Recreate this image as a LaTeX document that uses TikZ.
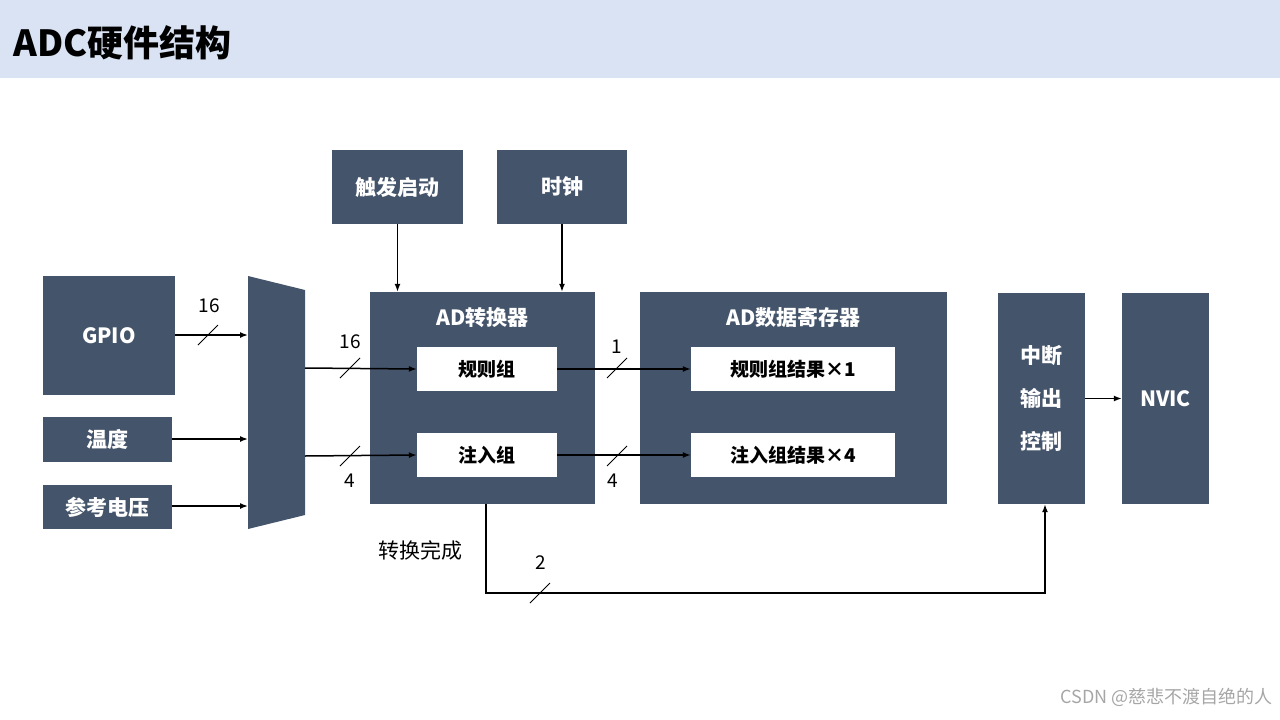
\documentclass[tikz,border=0pt]{standalone}
\usepackage{fontspec}
\setmainfont{Noto Sans CJK SC}
\usetikzlibrary{arrows.meta}
\definecolor{hdr}{HTML}{DAE3F3}
\definecolor{blk}{HTML}{44546A}
\tikzset{
 dbox/.style={fill=blk,draw=none,text=white,font=\fontsize{21}{24}\selectfont\bfseries,inner sep=0pt},
 wbox/.style={fill=white,draw=none,text=black,font=\fontsize{19}{22}\selectfont\bfseries,inner sep=0pt},
 arr/.style={-{Latex[length=8pt,width=6pt]},line width=1.5pt},
 ln/.style={line width=1.5pt},
 sl/.style={line width=0.9pt},
 lbl/.style={font=\fontsize{19}{22}\selectfont,inner sep=0pt}
}
\newcommand{\bx}[6]{\node[#1,minimum width=#4-#2,minimum height=#5-#3,anchor=north west,align=center] (#6) at (#2,#3) {};}
\begin{document}
\begin{tikzpicture}[x=1pt,y=-1pt]
\useasboundingbox (0,0) rectangle (1280,720);
\fill[hdr] (0,0) rectangle (1280,78);
\node[anchor=west,font=\fontsize{36}{40}\selectfont\bfseries] (title) at (10,43) {ADC硬件结构};
% boxes
\node[dbox,minimum width=131pt,minimum height=74pt] (trig) at (397.5,187) {触发启动};
\node[dbox,minimum width=130pt,minimum height=74pt] (clk) at (562,187) {时钟};
\node[dbox,minimum width=132pt,minimum height=119pt] (gpio) at (109,335.5) {GPIO};
\node[dbox,minimum width=129pt,minimum height=45pt] (temp) at (107.5,439.5) {温度};
\node[dbox,minimum width=129pt,minimum height=44pt] (vref) at (107.5,507) {参考电压};
\fill[blk] (248,276) -- (305,290) -- (305,515) -- (248,529) -- cycle;
\coordinate (muxL1) at (248,335); \coordinate (muxL2) at (248,439); \coordinate (muxL3) at (248,506);
\coordinate (muxR1) at (305,368); \coordinate (muxR2) at (305,456);
\node[dbox,minimum width=225pt,minimum height=212pt] (adc) at (482.5,398) {};
\node[text=white,font=\fontsize{21}{24}\selectfont\bfseries] (adct) at (482.5,318) {AD转换器};
\node[wbox,minimum width=140pt,minimum height=44pt] (reg) at (487,369) {规则组};
\node[wbox,minimum width=140pt,minimum height=44pt] (inj) at (487,455) {注入组};
\node[dbox,minimum width=307pt,minimum height=212pt] (dr) at (793.5,398) {};
\node[text=white,font=\fontsize{21}{24}\selectfont\bfseries] (drt) at (793.5,318) {AD数据寄存器};
\node[wbox,minimum width=204pt,minimum height=44pt] (rr) at (793,369) {规则组结果×1};
\node[wbox,minimum width=204pt,minimum height=44pt] (ir) at (793,455) {注入组结果×4};
\node[dbox,minimum width=87pt,minimum height=211pt,align=center,font=\fontsize{21}{43}\selectfont\bfseries] (irq) at (1041.5,398.5) {中断\\输出\\控制};
\node[dbox,minimum width=87pt,minimum height=211pt] (nvic) at (1165.5,398.5) {NVIC};
% arrows
\draw[arr] (trig.south) -- (trig.south |- adc.north);
\draw[arr] (clk.south) -- (clk.south |- adc.north);
\draw[arr] (gpio.east |- muxL1) -- (muxL1);
\draw[arr] (temp.east |- muxL2) -- (muxL2);
\draw[arr] (vref.east |- muxL3) -- (muxL3);
\draw[arr] (muxR1) -- (reg.west);
\draw[arr] (muxR2) -- (inj.west);
\draw[arr] (reg.east) -- (rr.west);
\draw[arr] (inj.east) -- (ir.west);
\draw[arr] (irq.east) -- (nvic.west);
\coordinate (b1) at (486,593); \coordinate (b2) at (1045,593);
\draw[arr] (486,504) -- (b1) -- (b2) -- (irq.south -| b2);
% slashes
\foreach \x/\y in {208/335,350/368,350/456,617/368,617/456,540/593}
  \draw[sl] (\x-10,\y+10) -- (\x+10,\y-10);
\node[lbl] (l1) at (209,306) {16};
\node[lbl] (l2) at (350,342) {16};
\node[lbl] (l3) at (350,481) {4};
\node[lbl] (l4) at (617,347) {1};
\node[lbl] (l5) at (613,481) {4};
\node[lbl] (l6) at (541,563) {2};
\node[lbl,font=\fontsize{21}{24}\selectfont] (done) at (420,550) {转换完成};
\node[anchor=east,text=gray!70,font=\fontsize{18}{20}\selectfont] (wm) at (1276,697) {CSDN @慈悲不渡自绝的人};
\end{tikzpicture}
\end{document}
